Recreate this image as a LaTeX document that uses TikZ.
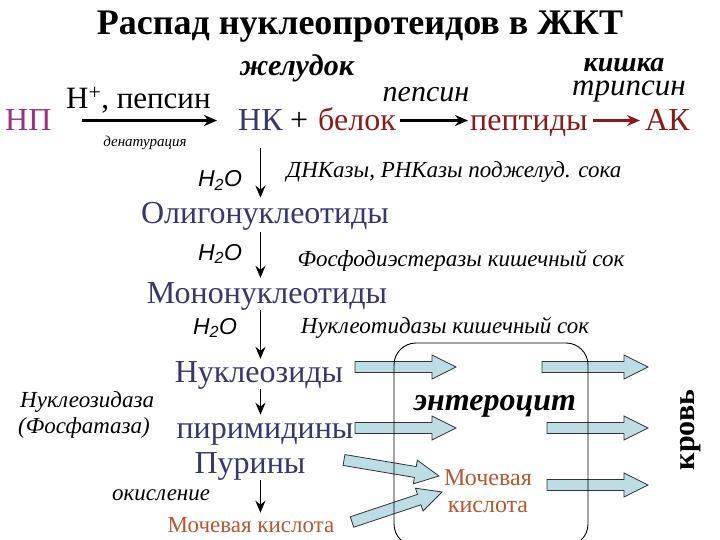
\documentclass[tikz,border=0pt]{standalone}
\usepackage{fontspec}
\setmainfont{Liberation Serif}
\newfontfamily\sansf{Liberation Sans}
\usetikzlibrary{arrows.meta,calc}
\definecolor{npcol}{HTML}{993380}
\definecolor{navy}{HTML}{37376E}
\definecolor{dred}{HTML}{8B1A1A}
\definecolor{uric}{HTML}{B8562E}
\definecolor{cellblue}{HTML}{BCDDE3}
\tikzset{
  lbl/.style={inner sep=0pt, anchor=base},
  bigt/.style={lbl, font=\fontsize{32}{36}\selectfont},
  ital/.style={lbl, font=\fontsize{23}{26}\selectfont\itshape},
  water/.style={lbl, font=\fontsize{23}{26}\selectfont\sansf\itshape},
  harrow/.style={line width=2.6pt, -{Stealth[length=13pt,width=11pt]}},
  varrow/.style={line width=1.8pt, -{Stealth[length=12pt,width=10pt]}},
  blockar/.style={draw=black!80, fill=cellblue, line width=0.8pt},
}
\newcommand\blockarrow[2]{%
  \coordinate (tmpH) at ($(#2)!24pt!(#1)$);
  \path[blockar] ($(#1)!5.5pt!90:(#2)$) -- ($(tmpH)!5.5pt!90:(#2)$) -- ($(tmpH)!12pt!90:(#2)$) -- (#2)
    -- ($(tmpH)!12pt!-90:(#2)$) -- ($(tmpH)!5.5pt!-90:(#2)$) -- ($(#1)!5.5pt!-90:(#2)$) -- cycle;}
\begin{document}
\begin{tikzpicture}[x=1pt,y=-1pt]
\useasboundingbox (0,0) rectangle (720,540);
\clip (0,0) rectangle (720,540);
% title
\node[lbl, font=\fontsize{36}{40}\selectfont\bfseries] (title) at (360,35) {Распад нуклеопротеидов в ЖКТ};
\node[lbl, font=\fontsize{30}{34}\selectfont\bfseries\itshape] (stom) at (297,76) {желудок};
\node[lbl, font=\fontsize{28}{32}\selectfont\bfseries\itshape] (gut) at (624,72) {кишка};
\node[lbl, font=\fontsize{31}{34}\selectfont\itshape] (tryp) at (629,96) {трипсин};
\node[lbl, font=\fontsize{30}{34}\selectfont\itshape] (peps) at (426,102) {пепсин};
% top reaction row
\node[bigt, anchor=base west, text=npcol] (np) at (5,131) {НП};
\node[bigt, anchor=base west, font=\fontsize{31}{34}\selectfont] (hp) at (66,109) {H\textsuperscript{+}, пепсин};
\node[lbl, font=\fontsize{15}{17}\selectfont\itshape] (denat) at (145,147) {денатурация};
\node[bigt, anchor=base west, text=navy] (nk) at (238,131) {НК};
\node[bigt, anchor=base west] (plus) at (290,131) {+};
\node[bigt, anchor=base west, text=dred] (bel) at (318,131) {белок};
\node[bigt, anchor=base west, text=dred] (pept) at (470,131) {пептиды};
\node[bigt, anchor=base west, text=dred] (ak) at (645,131) {АК};
\draw[harrow] ($(np.east)+(30pt,0)$) -- ($(np.east -| nk.west)+(-21pt,0)$);
\draw[harrow] ($(bel.east |- np.east)+(4pt,0)$) -- ($(np.east -| pept.west)+(-2pt,0)$);
\draw[harrow, dred] ($(pept.east |- np.east)+(5pt,0)$) -- ($(np.east -| ak.west)+(-5pt,0)$);
% vertical chain
\node[bigt, text=navy] (olig) at (265,224) {Олигонуклеотиды};
\node[bigt, text=navy] (mono) at (267,303) {Мононуклеотиды};
\node[bigt, text=navy] (nukl) at (259,382) {Нуклеозиды};
\node[bigt, text=navy] (pyr) at (265,438) {пиримидины};
\node[bigt, text=navy] (pur) at (250,473) {Пурины};
\node[lbl, font=\fontsize{23}{26}\selectfont, text=uric] (uric1) at (251,532) {Мочевая кислота};
\draw[varrow, shorten <=17pt, shorten >=5pt] (nk.south) -- (nk.south |- olig.north);
\draw[varrow, shorten <=1pt, shorten >=4pt] (olig.south -| nk.south) -- (nk.south |- mono.north);
\draw[varrow, shorten >=2pt] (mono.south -| nk.south) -- (nk.south |- nukl.north);
\draw[varrow, shorten >=8pt] (nukl.south -| nk.south) -- (nk.south |- pyr.north);
\draw[varrow, shorten >=4pt] (pur.south -| nk.south) -- (nk.south |- uric1.north);
% labels
\node[water] (w1) at (220,187) {H\textsubscript{2}O};
\node[water] (w2) at (220,260) {H\textsubscript{2}O};
\node[water] (w3) at (215,334) {H\textsubscript{2}O};
\node[ital] (dnk) at (454,178) {ДНКазы, РНКазы поджелуд. сока};
\node[ital] (phos) at (461,266) {Фосфодиэстеразы кишечный сок};
\node[ital] (ntase) at (445,333) {Нуклеотидазы кишечный сок};
\node[ital, anchor=base west] (nsase) at (20,407) {Нуклеозидаза};
\node[ital, anchor=base west] (phase) at (18,433) {(Фосфатаза)};
\node[ital, anchor=base west] (oxid) at (112,500) {окисление};
% enterocyte
\coordinate (a1s) at (355,367); \coordinate (a1e) at (456,367);
\coordinate (a2s) at (355,428); \coordinate (a2e) at (456,428);
\coordinate (a3s) at (344,460); \coordinate (a3e) at (439,476);
\coordinate (a4s) at (352,522); \coordinate (a4e) at (442,492);
\coordinate (b1s) at (542,367); \coordinate (b1e) at (648,367);
\coordinate (b2s) at (547,428); \coordinate (b2e) at (648,428);
\coordinate (b3s) at (547,485); \coordinate (b3e) at (648,485);
\blockarrow{a1s}{a1e}
\blockarrow{a2s}{a2e}
\blockarrow{a3s}{a3e}
\blockarrow{a4s}{a4e}
\blockarrow{b1s}{b1e}
\blockarrow{b2s}{b2e}
\blockarrow{b3s}{b3e}
\draw[line width=0.9pt, rounded corners=22pt] (394,343) rectangle (588,546);
\node[lbl, font=\fontsize{32}{36}\selectfont\bfseries\itshape] (ent) at (495,410) {энтероцит};
\node[lbl, font=\fontsize{24}{28}\selectfont, text=uric] (uric2) at (488,485) {Мочевая};
\node[lbl, font=\fontsize{24}{28}\selectfont, text=uric] (uric3) at (488,512) {кислота};
\node[inner sep=0pt, font=\fontsize{30}{34}\selectfont\bfseries, rotate=90] (blood) at (691,430) {кровь};
\end{tikzpicture}
\end{document}
